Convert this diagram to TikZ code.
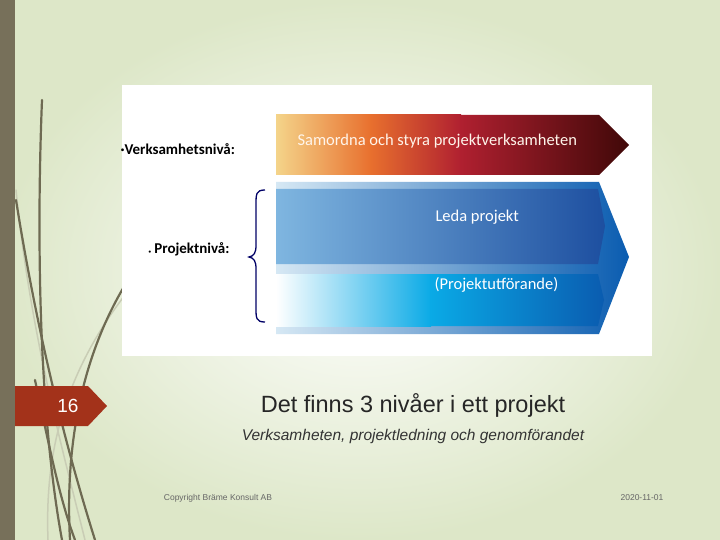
\documentclass[tikz,border=0pt]{standalone}
\usepackage{fontspec}
\setmainfont{Liberation Sans}
\newfontfamily\carl{Carlito}
\begin{document}
\begin{tikzpicture}[x=1pt,y=-1pt,
  grass/.style={draw=grassc,line width=2.2pt,line cap=round},
  lgrass/.style={draw=grassl,line width=1.5pt,line cap=round},
  dtxt/.style={font=\carl\fontsize{16.5}{19}\selectfont}]
\definecolor{grassc}{HTML}{6E6A52}
\definecolor{grassl}{HTML}{C9CDB5}
\definecolor{barc}{HTML}{77705A}
\definecolor{tabc}{HTML}{A3321A}
\definecolor{bgc}{HTML}{DDE7C8}
\definecolor{b1}{HTML}{7FB6E0}
\definecolor{b2}{HTML}{1D4FA0}
\definecolor{b3}{HTML}{0AAAE6}
\definecolor{b4}{HTML}{0A5CB0}
\definecolor{b5}{HTML}{D6E8F4}
\definecolor{o1}{HTML}{F4D48A}
\definecolor{o2}{HTML}{E8702E}
\definecolor{o3}{HTML}{B02030}
\definecolor{o4}{HTML}{400808}
\useasboundingbox (0,0) rectangle (720,540);
\shade[inner color=white,outer color=bgc] (0,0) rectangle (720,540);
\fill[barc] (0,0) rectangle (15,540);
% grass
\draw[lgrass] (125,295) .. controls (60,380) and (45,460) .. (48,540);
\draw[lgrass] (16,190) .. controls (30,330) and (60,440) .. (85,540);
\draw[grass] (42,100) .. controls (36,250) and (40,420) .. (62,540);
\draw[grass] (16,200) .. controls (40,350) and (70,460) .. (95,540);
\draw[grass] (125,285) .. controls (80,360) and (65,450) .. (70,540);
\draw[grass] (35,380) .. controls (50,450) and (60,500) .. (75,540);
% white panel
\fill[white] (122,85) rectangle (652,356);
% top arrow
\shade[left color=o1,right color=o2] (276,115) rectangle (371,175);
\shade[left color=o2,right color=o3] (370,115) rectangle (461,175);
\shade[left color=o3,right color=o4] (460,115) -- (599,115) -- (629,145) -- (599,175) -- (460,175) -- cycle;
\node[dtxt,text=white!92!orange,anchor=west] (t1) at (294,141) {Samordna och styra projektverksamheten};
% blue arrow
\shade[left color=b5,right color=b4]
  (276,182) -- (599,182) -- (629,257) -- (599,334) -- (276,334) -- cycle;
\shade[left color=b1,right color=b2]
  (276,189) -- (598,189) -- (605,226) -- (598,264) -- (276,264) -- cycle;
\shade[left color=white,right color=b3]
  (276,274) -- (431,274) -- (431,326) -- (276,326) -- cycle;
\shade[left color=b3,right color=b4]
  (430,274) -- (598,274) -- (604,300) -- (598,326) -- (430,326) -- cycle;
\node[dtxt,text=white,anchor=west] (t2) at (432,217) {Leda projekt};
\node[dtxt,text=white,anchor=west] (t3) at (431,285) {(Projektutförande)};
% labels
\node[anchor=west,font=\carl\bfseries\fontsize{15}{17}\selectfont] (l1) at (117,149) {·Verksamhetsnivå:};
\node[anchor=west,font=\carl\bfseries\fontsize{15}{17}\selectfont] (l2) at (145,249) {{\tiny\textbullet}\ Projektnivå:};
\draw[draw=blue!40!black,line width=1.3pt] (265,190) .. controls (256,190) and (256,194) .. (256,205)
  -- (256,245) .. controls (256,253) and (254,256) .. (249,257)
  .. controls (254,258) and (256,261) .. (256,269) -- (256,308)
  .. controls (256,318) and (256,322) .. (265,322);
% page tab
\fill[tabc] (15,386) -- (88,386) -- (107,406) -- (88,426) -- (15,426) -- cycle;
\node[text=white,font=\fontsize{19}{22}\selectfont] (pg) at (68,406) {16};
\node[font=\fontsize{23.5}{27}\selectfont,text=black!85] (title) at (413,405) {Det finns 3 nivåer i ett projekt};
\node[font=\itshape\fontsize{15.5}{18}\selectfont,text=black!80] (sub) at (413,436) {Verksamheten, projektledning och genomförandet};
\node[font=\fontsize{8.5}{10}\selectfont,text=black!60] (cp) at (218,498) {Copyright Bräme Konsult AB};
\node[font=\fontsize{8.5}{10}\selectfont,text=black!60] (dt) at (642,498) {2020-11-01};
\end{tikzpicture}
\end{document}
